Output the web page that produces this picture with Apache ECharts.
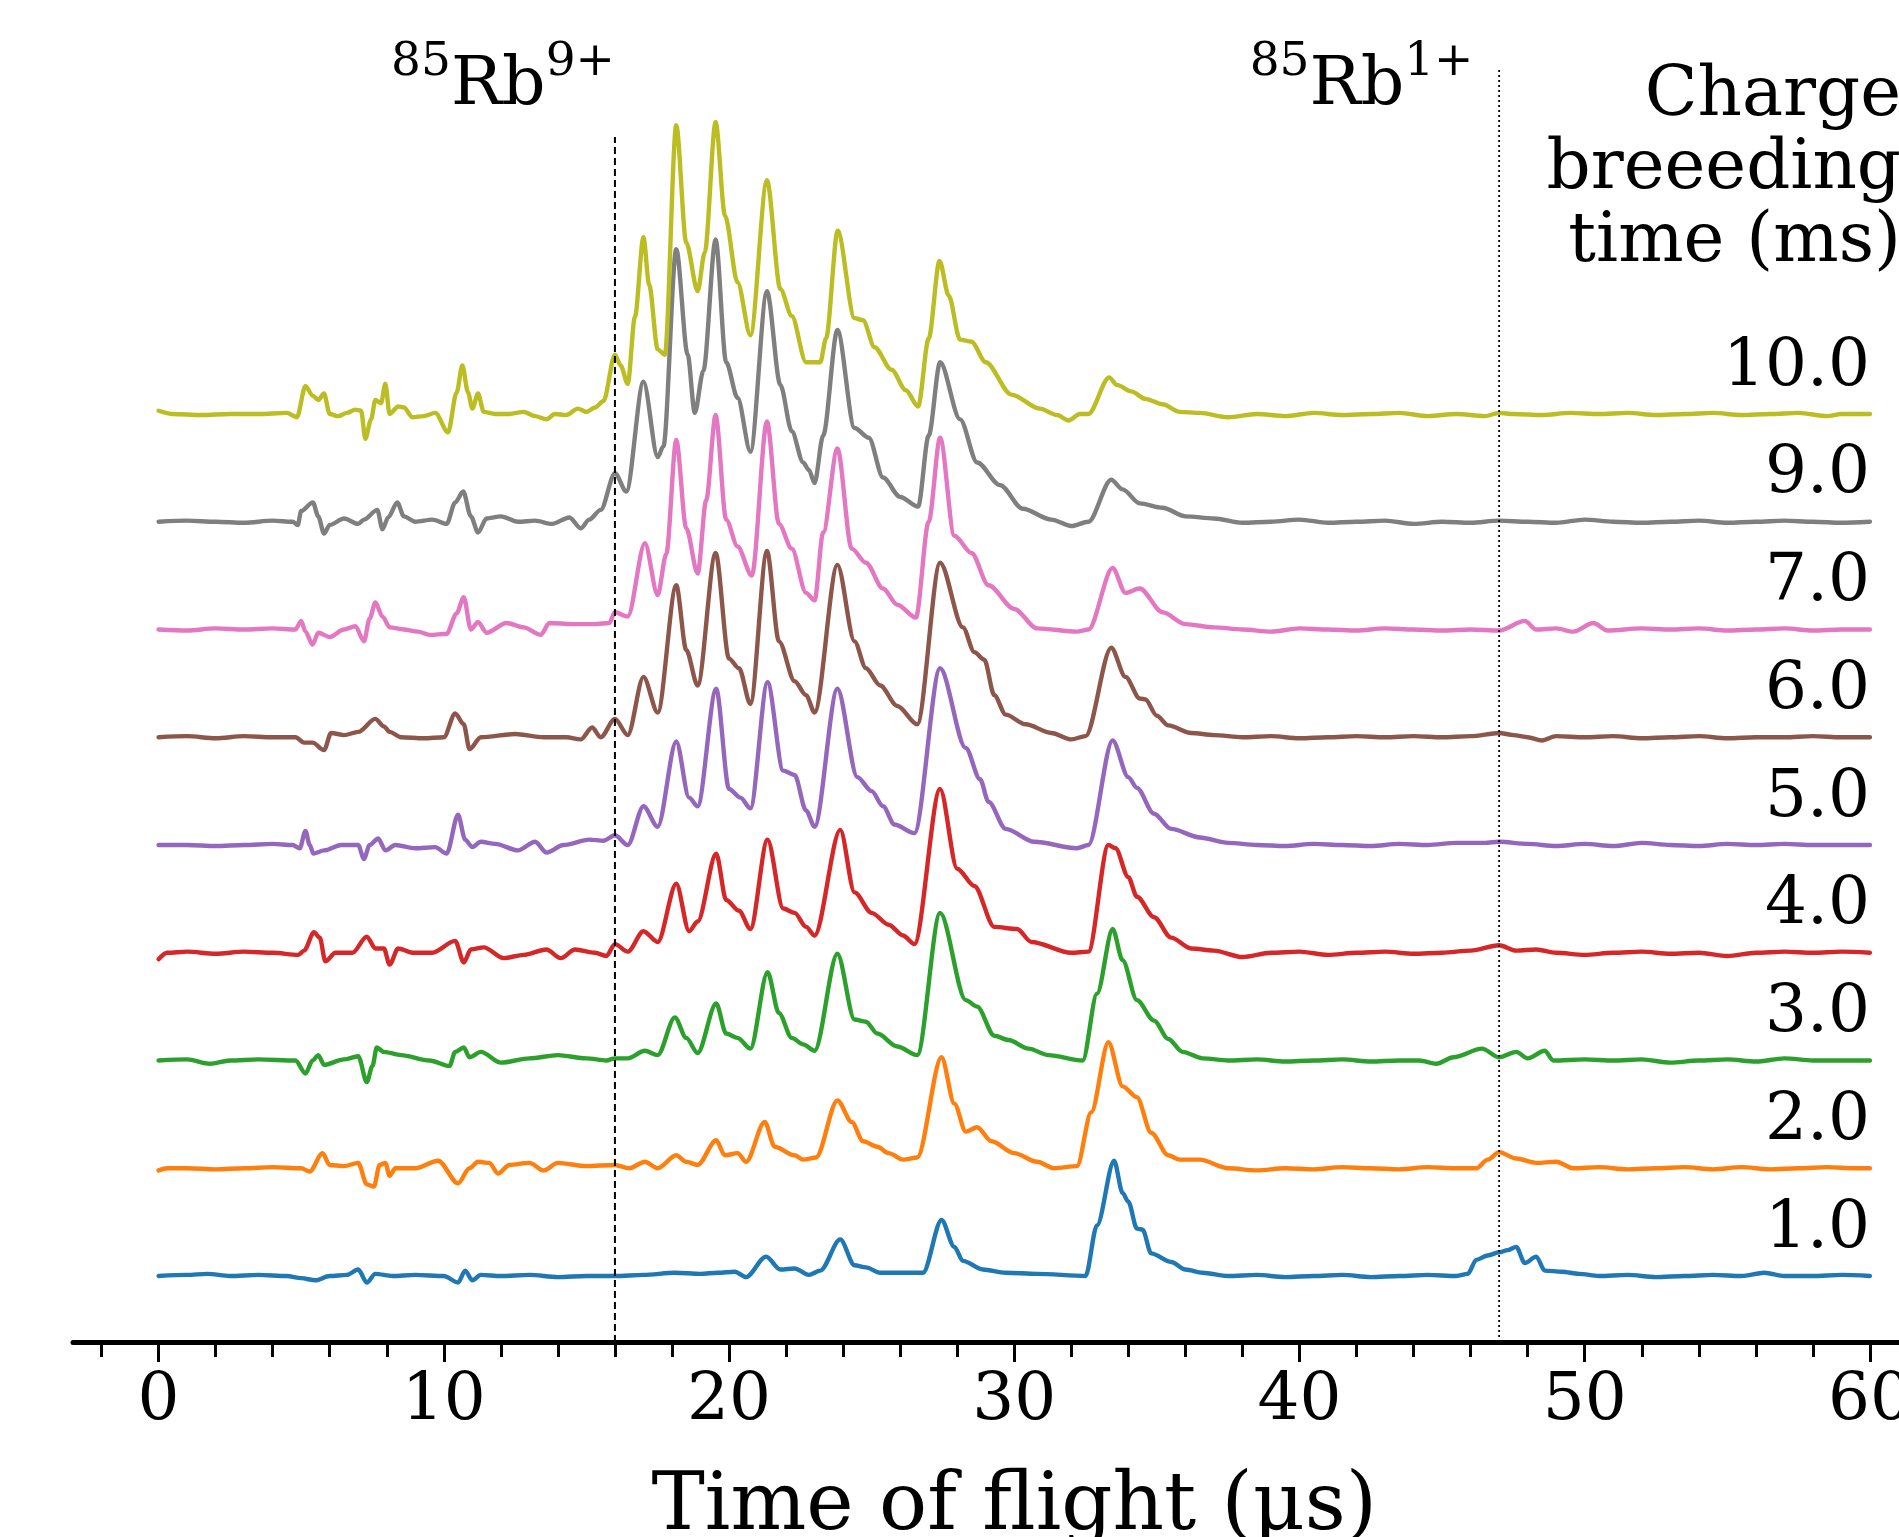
<!DOCTYPE html>
<html>
<head>
<meta charset="utf-8">
<script src="https://cdn.jsdelivr.net/npm/echarts@6/dist/echarts.min.js"></script>
<style>
html,body{margin:0;padding:0;background:#ffffff;}
#chart{width:1899px;height:1537px;}
</style>
</head>
<body>
<div id="chart"></div>
<script>
// ---------------- data ----------------
const breedingTimes = ['1.0', '2.0', '3.0', '4.0', '5.0', '6.0', '7.0', '9.0', '10.0'];
const seriesColors = ['#1f77b4', '#ff7f0e', '#2ca02c', '#d62728', '#9467bd', '#8c564b', '#e377c2', '#7f7f7f', '#bcbd22'];

// [time of flight (us), signal (offset units)]
const tof_1ms = [[0,0.0],[1,0.01],[1.7,0.02],[2.5,0.0],[3.5,0.01],[4.5,0.0],[5.0,-0.02],[5.5,-0.04],[6.0,0.0],[6.6,0.01],[7.0,0.06],[7.3,-0.06],[7.6,0.02],[8.2,0.0],[9.0,0.01],[10.0,0.0],[10.5,-0.06],[10.75,0.05],[11.0,-0.04],[11.3,0.01],[12.0,0.0],[13.0,0.01],[14.0,-0.01],[15.0,0.0],[16.0,0.0],[17.0,0.01],[18.1,0.03],[19.0,0.02],[19.6,0.03],[20.2,0.04],[20.6,-0.01],[21.3,0.18],[21.8,0.06],[22.3,0.07],[22.8,0.01],[23.2,0.05],[23.9,0.34],[24.4,0.1],[24.8,0.08],[25.3,0.03],[26.1,0.03],[26.8,0.03],[27.45,0.52],[27.9,0.27],[28.2,0.14],[28.9,0.06],[29.7,0.03],[30.8,0.02],[32.5,0.0],[32.9,0.47],[33.5,1.07],[33.8,0.77],[34.0,0.69],[34.3,0.44],[34.5,0.43],[34.8,0.21],[35.5,0.13],[36.0,0.06],[36.6,0.03],[37.5,0.0],[38.5,0.01],[39.5,-0.01],[40.5,0.0],[41.5,0.01],[42.5,-0.01],[43.5,0.0],[44.5,0.01],[45.5,0.0],[45.9,0.02],[46.2,0.15],[46.6,0.19],[47.0,0.22],[47.3,0.24],[47.6,0.27],[47.9,0.12],[48.3,0.18],[48.6,0.05],[49.2,0.04],[49.8,0.02],[50.5,0.0],[51.5,0.01],[52.5,-0.01],[53.5,0.0],[54.5,0.01],[55.5,0.0],[56.3,0.03],[57,0.0],[58,0.0],[59,0.01],[60,0.0]];

const tof_2ms = [[0,-0.02],[0.3,0.0],[1,0.0],[2,-0.01],[3,0.0],[4,0.01],[5.0,0.0],[5.3,-0.03],[5.75,0.14],[6.0,0.03],[6.5,0.02],[7.0,0.05],[7.3,-0.15],[7.55,-0.17],[7.75,0.03],[7.95,0.05],[8.1,-0.07],[8.3,0.0],[9.0,0.0],[9.8,0.07],[10.5,-0.14],[10.9,0.0],[11.2,0.06],[11.6,0.05],[11.9,-0.05],[12.3,0.03],[13.0,0.05],[13.5,-0.02],[14.0,0.05],[15.0,0.02],[16.0,0.03],[16.5,0.0],[17.05,0.06],[17.5,0.0],[18.15,0.12],[18.5,0.06],[18.9,0.03],[19.55,0.26],[19.85,0.12],[20.3,0.14],[20.6,0.06],[21.25,0.43],[21.6,0.2],[22.3,0.12],[22.6,0.08],[23.05,0.1],[23.8,0.63],[24.3,0.43],[24.7,0.25],[25.2,0.2],[25.6,0.14],[26.1,0.08],[26.6,0.1],[27.45,1.03],[27.9,0.6],[28.3,0.34],[28.7,0.38],[29.2,0.25],[30.0,0.14],[30.8,0.06],[31.4,0.0],[32.2,0.02],[32.7,0.52],[33.3,1.17],[33.8,0.76],[34.3,0.66],[34.8,0.33],[35.4,0.12],[35.8,0.08],[36.5,0.08],[37.5,0.0],[38.5,-0.02],[39.5,0.0],[40.5,-0.01],[41.5,0.01],[42.5,0.0],[43.5,-0.01],[44.5,0.01],[45.5,0.0],[46.2,0.0],[46.6,0.08],[47.0,0.15],[47.6,0.09],[48.3,0.05],[49.0,0.06],[49.6,0.0],[50.5,0.01],[51.5,-0.01],[52.5,0.0],[53.5,0.01],[54.5,-0.01],[55.5,0.01],[56.5,-0.01],[57.5,0.0],[58.5,0.01],[59.5,0.0],[60,0.0]];

const tof_3ms = [[0,0.0],[1,0.01],[1.8,-0.03],[2.5,0.0],[3.5,0.01],[4.8,0.0],[5.15,-0.12],[5.4,0.0],[5.6,0.05],[5.8,-0.04],[6.5,0.01],[7.0,0.04],[7.3,-0.2],[7.5,-0.05],[7.65,0.12],[7.9,0.08],[8.5,0.05],[9.5,0.0],[10.2,-0.05],[10.4,0.08],[10.7,0.12],[10.9,0.03],[11.3,0.08],[12.0,-0.02],[13.0,0.02],[14.0,0.05],[15.0,0.02],[15.7,0.0],[16.0,0.02],[16.45,0.02],[17.05,0.09],[17.5,0.05],[18.1,0.4],[18.5,0.21],[18.9,0.07],[19.55,0.53],[19.9,0.25],[20.3,0.21],[20.75,0.11],[21.35,0.82],[21.75,0.44],[22.2,0.21],[22.6,0.15],[23.0,0.09],[23.8,0.99],[24.4,0.38],[24.8,0.36],[25.2,0.25],[25.9,0.13],[26.6,0.05],[27.4,1.37],[28.3,0.56],[28.7,0.5],[29.3,0.23],[29.8,0.19],[30.5,0.11],[31.2,0.05],[32.4,0.0],[32.9,0.62],[33.45,1.22],[33.8,0.93],[34.3,0.56],[34.9,0.37],[35.4,0.2],[35.9,0.08],[36.6,0.02],[37.5,0.0],[38.5,0.01],[39.5,-0.01],[40.5,0.0],[41.5,0.01],[42.5,-0.01],[43.5,0.0],[44.2,0.0],[44.8,-0.03],[45.4,0.03],[46.4,0.11],[47.0,0.03],[47.6,0.08],[48.0,0.02],[48.6,0.09],[48.9,0.0],[50,0.01],[51,0.0],[52,0.01],[53,-0.02],[54,0.0],[55,0.01],[56,-0.01],[57,0.02],[58,0.0],[59,0.0],[60,0.0]];

const tof_4ms = [[0,-0.06],[0.3,0.0],[1,0.01],[2,-0.01],[3,0.01],[4,0.0],[4.9,-0.02],[5.1,0.02],[5.45,0.19],[5.65,0.14],[5.85,-0.08],[6.2,0.0],[6.8,0.0],[7.3,0.15],[7.6,0.04],[7.9,0.04],[8.1,-0.11],[8.4,0.04],[8.9,0.0],[9.6,0.0],[10.4,0.11],[10.7,-0.09],[10.95,0.03],[11.4,0.05],[12.1,-0.05],[12.8,-0.02],[13.6,0.03],[14.1,-0.05],[14.6,0.03],[15.3,0.0],[15.7,-0.03],[16.0,0.08],[16.45,0.01],[17.0,0.2],[17.5,0.1],[18.15,0.64],[18.6,0.2],[18.9,0.29],[19.55,0.92],[19.9,0.49],[20.35,0.39],[20.75,0.22],[21.35,1.05],[21.9,0.41],[22.3,0.37],[22.7,0.24],[23.0,0.16],[23.9,1.14],[24.4,0.56],[25.0,0.37],[25.6,0.26],[26.1,0.16],[26.5,0.08],[27.4,1.52],[28.0,0.78],[28.6,0.62],[29.3,0.24],[30.1,0.22],[30.6,0.1],[32.0,0.0],[32.6,0.01],[33.3,1.0],[33.55,0.97],[34.0,0.7],[34.3,0.52],[34.9,0.33],[35.5,0.14],[36.2,0.04],[37,0.02],[38,-0.04],[39,0.0],[40,0.01],[41,-0.02],[42,0.0],[43,0.01],[44,-0.01],[45,0.0],[46,0.02],[47,0.07],[47.6,0.02],[48.3,0.03],[49,0.0],[50,-0.02],[51,0.0],[52,0.01],[53,-0.01],[54,0.0],[55,-0.03],[56,0.0],[57,0.01],[58,0.0],[59,0.01],[60,0.0]];

const tof_5ms = [[0,0.0],[1,0.0],[2,-0.01],[3,0.0],[4,0.01],[4.7,0.0],[4.95,-0.03],[5.15,0.13],[5.3,0.0],[5.43,-0.08],[5.8,-0.05],[6.4,0.0],[7.0,0.0],[7.2,-0.13],[7.4,0.0],[7.7,0.06],[7.95,-0.05],[8.3,0.0],[9.0,-0.03],[9.7,-0.02],[10.1,-0.08],[10.5,0.28],[10.75,0.05],[11.0,-0.02],[11.3,0.03],[11.8,0.01],[12.6,-0.05],[13.2,0.03],[13.6,-0.07],[14.2,0.0],[15.1,0.05],[15.6,0.04],[16.0,0.09],[16.45,0.0],[17.0,0.36],[17.5,0.17],[18.15,0.96],[18.6,0.44],[18.9,0.36],[19.55,1.45],[20.0,0.52],[20.4,0.44],[20.75,0.34],[21.35,1.51],[21.9,0.69],[22.3,0.65],[22.7,0.32],[23.0,0.17],[23.8,1.45],[24.5,0.63],[25.0,0.5],[25.4,0.36],[25.8,0.19],[26.5,0.11],[27.4,1.64],[28.3,0.9],[28.8,0.61],[29.1,0.4],[29.7,0.15],[30.7,0.03],[32.2,-0.03],[32.6,0.0],[33.45,0.97],[34.0,0.63],[34.3,0.53],[34.9,0.29],[35.5,0.15],[36.5,0.07],[37.5,0.02],[38.5,0.0],[39.5,-0.01],[40.5,0.01],[41.5,0.0],[42.5,-0.01],[43.5,0.01],[44.5,0.0],[45.5,0.02],[46.5,0.02],[47,0.03],[48,0.01],[49,-0.01],[50,0.01],[51,-0.01],[52,0.02],[53,0.0],[54,-0.01],[55,0.01],[56,0.0],[57,0.01],[58,0.0],[59,0.0],[60,0.0]];

const tof_6ms = [[0,0.0],[1,0.01],[2,-0.01],[3,0.01],[4,0.0],[4.8,0.0],[5.1,-0.05],[5.4,-0.05],[5.8,-0.12],[6.05,0.04],[6.5,0.02],[7.0,0.05],[7.6,0.17],[7.9,0.1],[8.1,0.05],[8.5,0.0],[9.3,-0.01],[10.0,0.0],[10.4,0.22],[10.7,0.12],[10.9,-0.11],[11.3,0.0],[12.5,0.03],[13.5,0.0],[14.3,0.0],[14.8,-0.02],[15.2,0.09],[15.5,0.0],[16.0,0.17],[16.45,0.02],[17.0,0.56],[17.5,0.23],[18.15,1.41],[18.5,0.81],[18.9,0.48],[19.53,1.71],[20.0,0.73],[20.35,0.64],[20.75,0.31],[21.33,1.73],[21.75,0.89],[22.3,0.52],[22.7,0.39],[23.0,0.23],[23.8,1.6],[24.4,0.89],[24.8,0.64],[25.3,0.48],[25.9,0.29],[26.6,0.12],[27.4,1.62],[28.2,1.02],[28.6,0.79],[28.95,0.72],[29.3,0.39],[29.7,0.21],[30.4,0.12],[31.3,0.04],[32.0,-0.02],[32.5,0.01],[33.4,0.83],[33.9,0.56],[34.4,0.36],[34.6,0.35],[35.0,0.2],[35.4,0.11],[36.2,0.04],[37,0.02],[38,0.0],[39,0.01],[40,-0.01],[41,0.0],[42,0.01],[43,0.0],[44,0.01],[45,0.0],[46,0.01],[47,0.04],[47.5,0.02],[48,0.0],[48.5,-0.03],[49,0.01],[50,0.0],[51,0.01],[52,-0.01],[53,0.0],[54,0.01],[55,-0.01],[56,0.0],[57,0.0],[58,0.01],[59,0.0],[60,0.0]];

const tof_7ms = [[0,0.0],[1,-0.01],[2,0.01],[3,0.0],[4,0.01],[4.8,0.0],[5.0,0.08],[5.15,-0.02],[5.4,-0.14],[5.6,-0.03],[6.0,-0.07],[6.5,0.0],[6.9,0.03],[7.2,-0.11],[7.4,0.1],[7.6,0.25],[7.85,0.12],[8.1,0.02],[8.6,0.0],[9.1,-0.02],[9.5,-0.05],[10.1,-0.04],[10.45,0.15],[10.7,0.3],[10.95,0.0],[11.2,0.07],[11.5,-0.03],[12.2,0.06],[12.8,0.02],[13.4,-0.05],[13.7,0.06],[14.5,0.05],[15.3,0.05],[15.8,0.06],[16.0,0.16],[16.45,0.12],[17.05,0.8],[17.5,0.32],[17.8,0.7],[18.15,1.76],[18.5,0.94],[18.9,0.52],[19.2,1.2],[19.53,1.99],[19.9,1.02],[20.3,0.77],[20.8,0.5],[21.33,1.93],[21.75,0.98],[22.2,0.75],[22.7,0.34],[23.0,0.27],[23.3,0.9],[23.8,1.68],[24.3,0.75],[24.8,0.62],[25.4,0.38],[25.9,0.23],[26.55,0.11],[27.0,1.0],[27.4,1.78],[27.9,0.87],[28.5,0.71],[29.1,0.41],[30.0,0.19],[30.8,0.01],[32.2,-0.02],[32.6,0.0],[33.45,0.57],[33.9,0.34],[34.4,0.38],[35.2,0.16],[36.0,0.05],[37.0,0.02],[38,0.0],[39,-0.02],[40,0.01],[41,0.0],[42,-0.01],[43,0.01],[44,0.0],[45,-0.01],[46,0.0],[47,-0.01],[47.9,0.08],[48.3,0.0],[49,0.01],[49.6,-0.02],[50.3,0.06],[50.8,-0.01],[52,0.01],[53,0.0],[54,0.01],[55,-0.01],[56,0.0],[57,0.01],[58,-0.01],[59,0.0],[60,0.0]];

const tof_9ms = [[0,0.0],[1,0.01],[2,0.0],[3,-0.01],[4,0.01],[4.7,0.0],[4.88,-0.03],[5.0,0.1],[5.41,0.18],[5.6,0.05],[5.8,-0.11],[6.0,-0.03],[6.5,0.03],[7.0,-0.02],[7.2,0.02],[7.67,0.11],[7.85,-0.07],[8.05,0.04],[8.37,0.18],[8.6,0.05],[9.0,0.0],[9.6,0.02],[10.1,-0.02],[10.4,0.18],[10.68,0.28],[10.95,0.05],[11.2,-0.1],[11.5,0.03],[12.0,0.05],[12.6,0.0],[13.2,0.01],[13.8,-0.02],[14.4,0.04],[14.8,-0.06],[15.1,0.02],[15.5,0.11],[16.0,0.45],[16.4,0.28],[17.0,1.3],[17.5,0.6],[17.7,0.7],[18.15,2.53],[18.55,1.55],[18.8,1.01],[19.1,1.4],[19.53,2.62],[19.9,1.48],[20.3,1.15],[20.75,0.65],[21.33,2.14],[21.8,1.27],[22.2,0.84],[22.6,0.55],[22.8,0.48],[23.0,0.36],[23.3,0.8],[23.8,1.78],[24.4,0.87],[24.9,0.78],[25.4,0.41],[26.0,0.23],[26.63,0.14],[27.0,0.8],[27.4,1.48],[28.1,0.95],[28.7,0.55],[29.5,0.34],[30.3,0.12],[31.3,0.02],[32.0,-0.04],[32.6,0.0],[33.4,0.39],[33.8,0.3],[34.4,0.17],[35.2,0.13],[36.0,0.05],[37.0,0.03],[38,-0.01],[39,0.0],[40,0.02],[41,-0.01],[42,0.0],[43,0.01],[44,-0.02],[45,0.0],[46,-0.01],[47,0.01],[48,0.0],[49,-0.01],[50,0.02],[51,0.0],[52,-0.01],[53,0.0],[54,0.01],[55,-0.01],[56,0.0],[57,0.01],[58,0.0],[59,-0.01],[60,0.0]];

const tof_10ms = [[0,0.03],[0.5,0.0],[1.5,-0.01],[2.5,0.0],[3.5,0.0],[4.5,0.01],[4.85,-0.03],[5.15,0.26],[5.4,0.17],[5.6,0.13],[5.8,0.19],[6.0,0.0],[6.3,-0.02],[6.6,0.01],[6.9,0.04],[7.1,0.03],[7.25,-0.23],[7.45,-0.05],[7.6,0.13],[7.8,0.1],[7.95,0.28],[8.1,0.0],[8.4,0.07],[8.6,0.06],[8.9,-0.03],[9.3,-0.02],[9.7,0.01],[10.15,-0.17],[10.45,0.2],[10.65,0.45],[10.85,0.2],[11.0,0.05],[11.2,0.19],[11.4,0.02],[11.8,0.0],[12.3,0.0],[12.8,0.02],[13.2,-0.02],[13.6,-0.05],[13.9,0.0],[14.3,-0.01],[14.7,0.05],[15.0,0.02],[15.3,0.06],[15.6,0.12],[16.0,0.55],[16.2,0.45],[16.45,0.28],[16.7,0.9],[17.0,1.64],[17.2,1.2],[17.5,0.6],[17.75,0.55],[18.15,2.68],[18.5,1.59],[18.9,1.14],[19.15,1.5],[19.53,2.71],[19.86,1.84],[20.3,1.22],[20.75,0.73],[21.33,2.17],[21.8,1.16],[22.2,0.91],[22.7,0.48],[23.2,0.48],[23.4,0.7],[23.81,1.7],[24.4,0.89],[24.7,0.87],[25.1,0.62],[25.7,0.41],[26.2,0.22],[26.63,0.07],[27.0,0.7],[27.38,1.42],[27.7,1.1],[28.1,0.69],[28.5,0.67],[29.0,0.48],[29.9,0.18],[30.9,0.05],[31.5,-0.01],[31.9,-0.06],[32.3,0.0],[32.6,0.0],[33.33,0.34],[33.6,0.27],[34.1,0.21],[34.6,0.14],[35.2,0.09],[35.8,0.02],[36.5,0.01],[37.5,-0.03],[38.5,0.0],[39.5,-0.02],[40.5,0.01],[41.5,-0.01],[42.5,0.0],[43.5,0.01],[44.5,-0.02],[45.5,0.0],[46.5,-0.02],[47.0,0.01],[47.5,0.0],[48.5,-0.01],[49.5,0.01],[50.5,0.0],[51.5,0.01],[52.5,-0.01],[53.5,0.0],[54.5,0.01],[55.5,-0.01],[56.5,0.0],[57.5,0.01],[58.5,-0.02],[59.0,0.0],[60,0.0]];

const spectra = [tof_1ms, tof_2ms, tof_3ms, tof_4ms, tof_5ms, tof_6ms, tof_7ms, tof_9ms, tof_10ms];

const majorTicks = [0, 10, 20, 30, 40, 50, 60];
const minorTicks = [-2, 0, 2, 4, 6, 8, 10, 12, 14, 16, 18, 20, 22, 24, 26, 28, 30, 32, 34, 36, 38, 40, 42, 44, 46, 48, 50, 52, 54, 56, 58, 60, 62];

// reference lines for the charge states
const markerPositions = [16, 47];
const markerTops = [10.57, 11.22];
const markerLabels = ['{sup|85}{main|Rb}{sup|9+}', '{sup|85}{main|Rb}{sup|1+}'];
const markerLabelX = [16.0, 46.1];
const markerLabelY = 10.72;

// ---------------- chart ----------------
const FONT = 'DejaVu Serif';
const X_MIN = -3, X_MAX = 63;
const Y_MIN = -0.6125, Y_MAX = 11.842;

const series = spectra.map((pts, i) => ({
  type: 'line',
  name: breedingTimes[i],
  xAxisIndex: 0, yAxisIndex: 0,
  data: pts.map(p => [p[0], p[1] + i]),
  showSymbol: false, symbol: 'none',
  smooth: 0.3, smoothMonotone: 'x',
  lineStyle: { width: 4.4, color: seriesColors[i], cap: 'round', join: 'round' },
  itemStyle: { color: seriesColors[i] },
  silent: true, z: 3,
  markPoint: {
    symbol: 'circle', symbolSize: 1, silent: true,
    itemStyle: { color: 'rgba(0,0,0,0)' },
    data: [{
      coord: [60, i],
      label: {
        show: true, formatter: breedingTimes[i], position: 'top', distance: 13,
        align: 'right', verticalAlign: 'bottom',
        fontFamily: FONT, fontSize: 66, color: '#000'
      }
    }]
  }
}));

markerPositions.forEach((x, k) => {
  series.push({
    type: 'line',
    xAxisIndex: 0, yAxisIndex: 0,
    data: [[x, Y_MIN], [x, markerTops[k]]],
    showSymbol: false, symbol: 'none', silent: true, z: 4,
    lineStyle: { color: '#000', width: k === 0 ? 2 : 1.8, type: k === 0 ? [7, 4] : [2, 3] },
    markPoint: {
      symbol: 'circle', symbolSize: 1, silent: true,
      itemStyle: { color: 'rgba(0,0,0,0)' },
      data: [{
        coord: [markerLabelX[k], markerLabelY],
        label: {
          show: true, formatter: markerLabels[k], position: 'top', distance: 0,
          align: 'right', verticalAlign: 'bottom',
          rich: {
            main: { fontFamily: FONT, fontSize: 68, lineHeight: 81, color: '#000', verticalAlign: 'bottom' },
            sup: { fontFamily: FONT, fontSize: 47, lineHeight: 47, color: '#000', verticalAlign: 'top' }
          }
        }
      }]
    }
  });
});

const gridBox = { left: 73, width: 1882.5, top: 0, height: 1342, containLabel: false, outerBoundsMode: 'none' };

const option = {
  animation: false,
  backgroundColor: '#ffffff',
  grid: [Object.assign({}, gridBox), Object.assign({}, gridBox)],
  xAxis: [{
    type: 'value', gridIndex: 0, min: X_MIN, max: X_MAX, position: 'bottom',
    axisLine: { show: true, onZero: false, lineStyle: { color: '#000', width: 5 } },
    axisTick: { show: true, length: 20, customValues: majorTicks, lineStyle: { color: '#000', width: 3 } },
    axisLabel: { show: true, customValues: majorTicks, margin: 27, fontFamily: FONT, fontSize: 66, color: '#000' },
    splitLine: { show: false },
    name: 'Time of flight (µs)', nameLocation: 'middle', nameGap: 126,
    nameTextStyle: { fontFamily: FONT, fontSize: 80, color: '#000' }
  }, {
    type: 'value', gridIndex: 1, min: X_MIN, max: X_MAX, position: 'bottom',
    axisLine: { show: false, onZero: false },
    axisTick: { show: true, length: 15, customValues: minorTicks, lineStyle: { color: '#000', width: 3 } },
    axisLabel: { show: false },
    splitLine: { show: false }
  }],
  yAxis: [
    { type: 'value', gridIndex: 0, min: Y_MIN, max: Y_MAX, show: false },
    { type: 'value', gridIndex: 1, min: 0, max: 1, show: false }
  ],
  graphic: [{
    type: 'text', right: -2, top: 61, silent: true,
    style: {
      text: 'Charge\nbreeeding\ntime (ms)',
      font: '69px "DejaVu Serif"', fill: '#000',
      align: 'right', textAlign: 'right', lineHeight: 73
    }
  }],
  series: series
};

const chart = echarts.init(document.getElementById('chart'), null, { renderer: 'canvas' });
chart.setOption(option);
</script>
</body>
</html>
